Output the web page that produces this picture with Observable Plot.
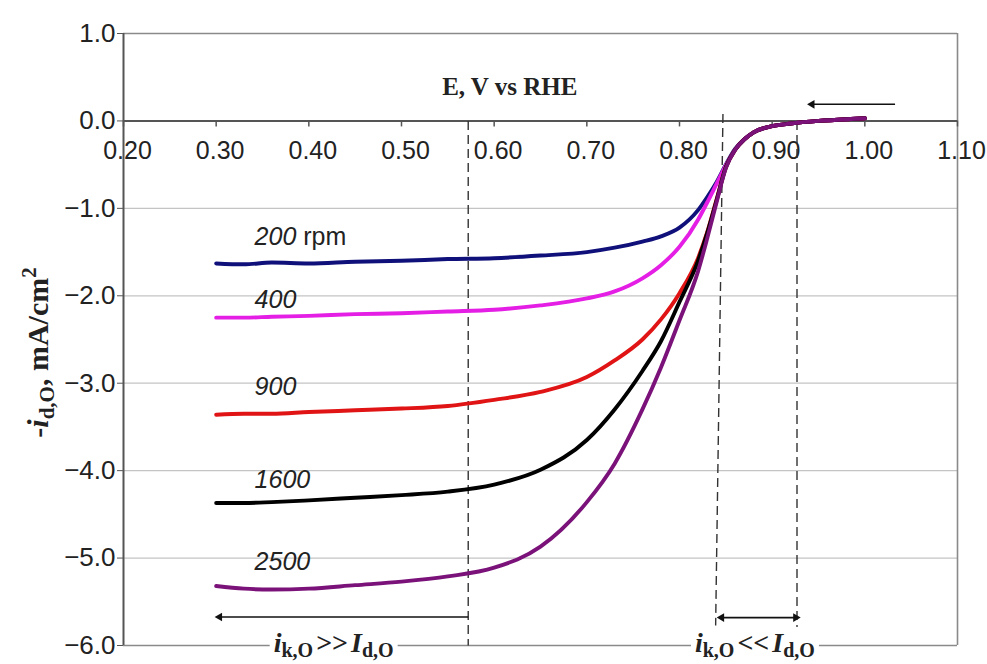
<!DOCTYPE html>
<html><head><meta charset="utf-8">
<script src="https://cdn.jsdelivr.net/npm/d3@7"></script>
<script src="https://cdn.jsdelivr.net/npm/@observablehq/plot@0.6"></script>
<style>
body{margin:0;background:#fff;}
#chart{width:987px;height:664px;}
</style>
</head><body><div id="chart"></div>
<script>
// Potential (V vs RHE) sampled along the sweep
const potential = [0.30, 0.33, 0.36, 0.40, 0.45, 0.50, 0.55, 0.60, 0.65, 0.70, 0.73, 0.76, 0.78, 0.80, 0.82, 0.83, 0.84, 0.85, 0.86, 0.87, 0.88, 0.90, 0.92, 0.95, 0.98, 1.00];
// Current density -i (mA/cm2) for each rotation rate
const i200  = [-1.63, -1.64, -1.62, -1.63, -1.61, -1.60, -1.58, -1.57, -1.54, -1.50, -1.45, -1.38, -1.32, -1.22, -1.02, -0.87, -0.70, -0.50, -0.32, -0.21, -0.13, -0.06, -0.03, 0.00, 0.02, 0.03];
const i400  = [-2.25, -2.25, -2.24, -2.23, -2.21, -2.20, -2.18, -2.16, -2.11, -2.03, -1.95, -1.80, -1.65, -1.44, -1.13, -0.93, -0.72, -0.51, -0.33, -0.21, -0.13, -0.06, -0.03, 0.00, 0.02, 0.03];
const i900  = [-3.36, -3.35, -3.35, -3.33, -3.31, -3.29, -3.26, -3.19, -3.10, -2.93, -2.74, -2.50, -2.27, -1.97, -1.57, -1.27, -0.90, -0.53, -0.33, -0.21, -0.13, -0.06, -0.03, 0.00, 0.02, 0.03];
const i1600 = [-4.37, -4.37, -4.36, -4.34, -4.31, -4.28, -4.24, -4.16, -3.99, -3.65, -3.30, -2.86, -2.52, -2.07, -1.60, -1.28, -0.91, -0.53, -0.33, -0.21, -0.13, -0.06, -0.03, 0.00, 0.02, 0.03];
const i2500 = [-5.32, -5.35, -5.36, -5.35, -5.31, -5.27, -5.21, -5.11, -4.87, -4.36, -3.92, -3.30, -2.82, -2.28, -1.72, -1.34, -0.93, -0.54, -0.33, -0.21, -0.13, -0.06, -0.03, 0.00, 0.02, 0.03];

const seriesNames  = ["200", "400", "900", "1600", "2500"];
const seriesValues = [i200, i400, i900, i1600, i2500];
const seriesColors = ["#10107a", "#e41ee4", "#e01414", "#000000", "#7a127a"];

// Curve labels
const labelTexts = ["200 rpm", "400", "900", "1600", "2500"];
const labelE = [0.3415, 0.3415, 0.3415, 0.3415, 0.3415];
const labelI = [-1.423, -2.143, -3.137, -4.20, -5.137];

// Axis ticks
const xTicks = [0.20, 0.30, 0.40, 0.50, 0.60, 0.70, 0.80, 0.90, 1.00, 1.10];
const yTicks = [1, 0, -1, -2, -3, -4, -5, -6];
const gridY = [-1, -2, -3, -4, -5];

// Annotations: dashed guide lines
const guideX1 = [0.572, 0.8469, 0.9268];
const guideX2 = [0.572, 0.8390, 0.9268];
const guideY1 = [0.0, 0.08, 0.0];
const guideY2 = [-6.0, -5.77, -5.80];
// Annotation arrows [x1, x2, y]
const arrowX1 = [0.572, 0.8455, 1.0326];
const arrowX2 = [0.3037, 0.9254, 0.943];
const arrowY  = [-5.674, -5.681, 0.19];
// arrowheads: position + direction
const headE   = [0.3037, 0.8455, 0.9254, 0.943];
const headI   = [-5.674, -5.681, -5.681, 0.19];
const headDir = ["left", "left", "right", "left"];

// texts
const axisTitleX = "E, V vs RHE";
const axisTitleXPos = [0.6168, 0.291];
const regionLabels = ["LBL_FAST", "LBL_SLOW"];
const regionE = [0.4268, 0.8814];
const regionI = [-6.074, -6.074];

const rows = [];
seriesNames.forEach((name, s) => {
  potential.forEach((e, k) => rows.push({rpm: name, E: e, i: seriesValues[s][k]}));
});
const guides = guideX1.map((x, k) => ({x1: x, x2: guideX2[k], y1: guideY1[k], y2: guideY2[k]}));
const arrows = arrowX1.map((x, k) => ({x1: x, x2: arrowX2[k], y: arrowY[k]}));
const heads = headE.map((x, k) => ({x, y: headI[k], dir: headDir[k]}));
const labels = labelTexts.map((t, k) => ({t, x: labelE[k], y: labelI[k]}));

const fmtY = d => (d < 0 ? "\u2212" : "") + Math.abs(d).toFixed(1);
const serif = "'Liberation Serif', 'Times New Roman', serif";

const plot = Plot.plot({
  width: 987,
  height: 664,
  marginLeft: 123,
  marginRight: 30,
  marginTop: 33,
  marginBottom: 19,
  x: {domain: [0.2, 1.1], axis: null},
  y: {domain: [-6, 1], axis: null},
  style: {fontFamily: "'Liberation Sans', Arial, sans-serif", background: "#fff", color: "#222"},
  marks: [
    Plot.ruleY(gridY, {stroke: "#c4c4c4", strokeWidth: 1.2}),
    Plot.ruleY([1, -6], {stroke: "#8a8a8a", strokeWidth: 1.6}),
    Plot.ruleX([1.1], {stroke: "#8a8a8a", strokeWidth: 1.6}),
    // x axis at y = 0
    Plot.ruleY([0], {stroke: "#555", strokeWidth: 2}),
    Plot.ruleX(xTicks, {y1: 0, y2: 0, insetBottom: -6, stroke: "#555", strokeWidth: 1.5}),
    Plot.text(xTicks, {x: d => d, y: 0, text: d => d.toFixed(2), dx: 4, dy: 30, fontSize: 25, fill: "#222"}),
    // y axis
    Plot.ruleX([0.2], {stroke: "#555", strokeWidth: 2}),
    Plot.axisY({ticks: yTicks, tickFormat: fmtY, tickSize: 6, tickPadding: 2, fontSize: 26, stroke: "#555", label: null}),
    // guide lines
    Plot.link(guides, {x1: "x1", x2: "x2", y1: "y1", y2: "y2", stroke: "#333", strokeWidth: 1.4, strokeDasharray: "9,5"}),
    // curves
    Plot.line(rows, {x: "E", y: "i", z: "rpm", stroke: "rpm", strokeWidth: 3.9, curve: "monotone-x"}),
    // arrows
    Plot.link(arrows, {x1: "x1", x2: "x2", y1: "y", y2: "y", stroke: "#111", strokeWidth: 1.6}),
    Plot.dot(heads, {x: "x", y: "y", symbol: "triangle", r: 3.2, fill: "#111", stroke: null,
      rotate: d => d.dir === "left" ? -90 : 90}),
    // labels
    Plot.text(labels, {x: "x", y: "y", text: "t", textAnchor: "start", lineAnchor: "bottom", fontSize: 25, fontStyle: "italic", fill: "#222"}),
    Plot.text([axisTitleX], {x: () => axisTitleXPos[0], y: () => axisTitleXPos[1], lineAnchor: "bottom", fontFamily: serif, fontWeight: "bold", fontSize: 25, fill: "#222"}),
    Plot.text(regionLabels, {x: (d, k) => regionE[k], y: (d, k) => regionI[k], text: d => d, lineAnchor: "bottom", fontFamily: serif, fontWeight: "bold", fontSize: 28, fill: "#222"}),
    Plot.text(["LBL_YTITLE"], {frameAnchor: "left", textAnchor: "middle", dx: -76, dy: 13, rotate: -90, lineAnchor: "bottom", fontFamily: serif, fontWeight: "bold", fontSize: 30, fill: "#222"})
  ],
  color: {domain: seriesNames, range: seriesColors}
});

document.getElementById("chart").append(plot);

// rich text
for (const t of plot.querySelectorAll("text")) {
  const s = t.textContent;
  if (s === "200 rpm") {
    t.innerHTML = '<tspan>200</tspan><tspan font-style="normal"> rpm</tspan>';
  } else if (s === "LBL_FAST" || s === "LBL_SLOW") {
    const op = s === "LBL_FAST" ? "&gt;&gt;" : "&lt;&lt;";
    t.innerHTML = '<tspan font-style="italic">i</tspan><tspan font-size="20" dy="5">k,O</tspan><tspan dy="-5" dx="3">' + op + '</tspan><tspan font-style="italic" dx="3">I</tspan><tspan font-size="20" dy="5">d,O</tspan>';
    const bb = t.getBBox();
    const r = document.createElementNS("http://www.w3.org/2000/svg", "rect");
    r.setAttribute("x", bb.x - 4); r.setAttribute("y", bb.y);
    r.setAttribute("width", bb.width + 8); r.setAttribute("height", bb.height);
    r.setAttribute("fill", "#fff");
    const tr = t.getAttribute("transform");
    if (tr) r.setAttribute("transform", tr);
    t.parentNode.insertBefore(r, t);
  } else if (s === "LBL_YTITLE") {
    t.innerHTML = '-<tspan font-style="italic">i</tspan><tspan font-size="21" dy="6">d,O</tspan><tspan dy="-6">, mA/cm</tspan><tspan font-size="21" dy="-12">2</tspan>';
  }
}
</script>
</body></html>
